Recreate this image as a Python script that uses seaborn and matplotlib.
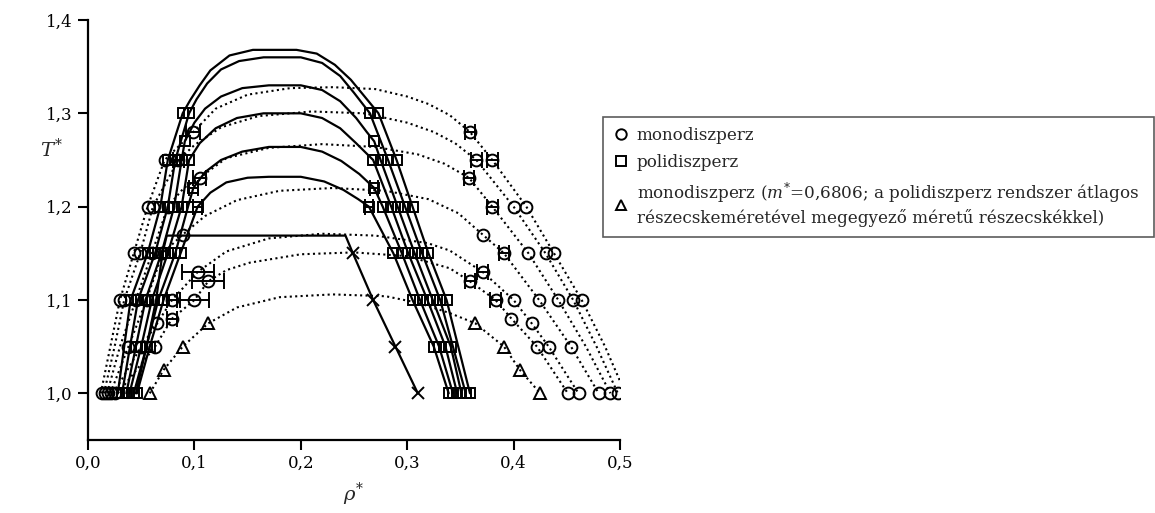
import numpy as np
import pandas as pd
import matplotlib
matplotlib.use("Agg")
import matplotlib.pyplot as plt
from matplotlib.lines import Line2D
from matplotlib.ticker import FuncFormatter, FixedLocator
import seaborn as sns

# ---------------- data ----------------
# monodisperse fitted coexistence curves (dotted)
c1_rho = [0.012,0.021,0.030,0.043,0.056,0.072,0.099,0.12,0.15,0.19,0.23,0.27,0.30,0.32,0.34,0.359,0.380,0.412,0.438,0.464,0.486,0.505]
c1_T   = [1.0,1.05,1.1,1.15,1.2,1.25,1.28,1.305,1.32,1.327,1.328,1.326,1.318,1.31,1.298,1.28,1.25,1.2,1.15,1.1,1.05,1.0]
c2_rho = [0.015,0.025,0.034,0.049,0.061,0.085,0.10,0.125,0.16,0.21,0.26,0.30,0.325,0.345,0.365,0.400,0.430,0.456,0.478,0.498]
c2_T   = [1.0,1.05,1.1,1.15,1.2,1.25,1.266,1.285,1.297,1.302,1.300,1.29,1.28,1.268,1.25,1.2,1.15,1.1,1.05,1.0]
c3_rho = [0.018,0.030,0.045,0.060,0.075,0.09,0.105,0.13,0.17,0.22,0.27,0.31,0.335,0.358,0.380,0.414,0.442,0.468,0.491]
c3_T   = [1.0,1.05,1.1,1.15,1.2,1.22,1.231,1.252,1.263,1.267,1.264,1.256,1.246,1.231,1.2,1.15,1.1,1.05,1.0]
c4_rho = [0.021,0.038,0.055,0.070,0.089,0.11,0.14,0.18,0.23,0.28,0.32,0.348,0.371,0.391,0.424,0.454,0.480]
c4_T   = [1.0,1.05,1.1,1.15,1.17,1.19,1.207,1.217,1.22,1.217,1.208,1.193,1.17,1.15,1.1,1.05,1.0]
c5_rho = [0.024,0.050,0.065,0.079,0.103,0.13,0.17,0.22,0.27,0.319,0.340,0.371,0.400,0.417,0.433,0.461]
c5_T   = [1.0,1.05,1.075,1.1,1.13,1.152,1.166,1.171,1.169,1.161,1.153,1.13,1.1,1.075,1.05,1.0]
c6_rho = [0.028,0.063,0.079,0.100,0.113,0.13,0.152,0.20,0.25,0.30,0.340,0.359,0.383,0.398,0.422,0.451]
c6_T   = [1.0,1.05,1.08,1.1,1.12,1.132,1.14,1.149,1.151,1.147,1.134,1.12,1.1,1.08,1.05,1.0]
# monodisperse m*=0.6806 curve (dotted, triangles)
tr_rho = [0.058,0.071,0.089,0.113,0.14,0.18,0.23,0.28,0.31,0.34,0.364,0.391,0.406,0.425]
tr_T   = [1.0,1.025,1.05,1.075,1.092,1.103,1.106,1.104,1.097,1.086,1.075,1.05,1.025,1.0]
tri_rho = [0.058,0.071,0.089,0.113,0.364,0.391,0.406,0.425]
tri_T   = [1.0,1.025,1.05,1.075,1.075,1.05,1.025,1.0]

# polydisperse curves (solid)
s1_rho = [0.028,0.040,0.056,0.068,0.075,0.089,0.096,0.105,0.115,0.133,0.155,0.196,0.215,0.232,0.247,0.260,0.273,0.290,0.305,0.320,0.337,0.359]
s1_T   = [1.0,1.1,1.15,1.2,1.25,1.3,1.314,1.33,1.346,1.362,1.368,1.368,1.364,1.352,1.336,1.318,1.3,1.25,1.2,1.15,1.1,1.0]
s2_rho = [0.032,0.047,0.063,0.075,0.082,0.095,0.102,0.112,0.125,0.142,0.165,0.20,0.22,0.237,0.250,0.265,0.282,0.298,0.314,0.331,0.355]
s2_T   = [1.0,1.1,1.15,1.2,1.25,1.3,1.315,1.332,1.347,1.356,1.360,1.360,1.354,1.340,1.322,1.3,1.25,1.2,1.15,1.1,1.0]
s3_rho = [0.036,0.045,0.054,0.069,0.081,0.088,0.091,0.10,0.11,0.125,0.145,0.17,0.20,0.22,0.237,0.252,0.262,0.269,0.275,0.291,0.307,0.324,0.341,0.351]
s3_T   = [1.0,1.05,1.1,1.15,1.2,1.25,1.27,1.29,1.305,1.318,1.327,1.33,1.33,1.325,1.313,1.295,1.28,1.27,1.25,1.2,1.15,1.1,1.05,1.0]
s4_rho = [0.039,0.050,0.060,0.075,0.088,0.095,0.105,0.12,0.14,0.165,0.20,0.22,0.237,0.252,0.268,0.285,0.301,0.319,0.336,0.347]
s4_T   = [1.0,1.05,1.1,1.15,1.2,1.25,1.268,1.284,1.295,1.30,1.30,1.295,1.284,1.268,1.25,1.2,1.15,1.1,1.05,1.0]
s5_rho = [0.043,0.055,0.066,0.082,0.094,0.099,0.11,0.125,0.145,0.17,0.20,0.22,0.238,0.255,0.269,0.277,0.295,0.312,0.330,0.343]
s5_T   = [1.0,1.05,1.1,1.15,1.2,1.22,1.237,1.25,1.259,1.264,1.264,1.259,1.249,1.235,1.22,1.2,1.15,1.1,1.05,1.0]
s6_rho = [0.046,0.058,0.071,0.087,0.103,0.115,0.13,0.15,0.17,0.20,0.222,0.24,0.254,0.264,0.287,0.305,0.325,0.339]
s6_T   = [1.0,1.05,1.1,1.15,1.2,1.215,1.226,1.231,1.232,1.232,1.227,1.218,1.208,1.2,1.15,1.1,1.05,1.0]

# cross-marked line (solid, x markers on right branch)
xl_rho = [0.045,0.055,0.064,0.070,0.074,0.242,0.249,0.268,0.289,0.310]
xl_T   = [1.0,1.05,1.1,1.15,1.169,1.169,1.15,1.1,1.05,1.0]
xm_rho = [0.249,0.268,0.289,0.310]
xm_T   = [1.15,1.1,1.05,1.0]

# monodisperse simulation points (circles) with horizontal error
circ_rho = [0.013,0.016,0.019,0.022,0.025,0.038,0.050,0.063,0.065,0.079,
            0.030,0.034,0.045,0.055,0.079,0.100,0.113,0.103,
            0.043,0.049,0.060,0.070,0.089,0.056,0.061,0.075,0.105,0.072,0.085,0.099,
            0.359,0.380,0.412,0.438,0.464,
            0.365,0.400,0.430,0.456,0.498,
            0.358,0.380,0.414,0.442,0.491,
            0.371,0.391,0.424,0.454,0.480,
            0.371,0.400,0.417,0.433,0.461,
            0.359,0.383,0.398,0.422,0.451]
circ_T   = [1.0,1.0,1.0,1.0,1.0,1.05,1.05,1.05,1.075,1.08,
            1.1,1.1,1.1,1.1,1.1,1.1,1.12,1.13,
            1.15,1.15,1.15,1.15,1.17,1.2,1.2,1.2,1.231,1.25,1.25,1.28,
            1.28,1.25,1.2,1.15,1.1,
            1.25,1.2,1.15,1.1,1.0,
            1.231,1.2,1.15,1.1,1.0,
            1.17,1.15,1.1,1.05,1.0,
            1.13,1.1,1.075,1.05,1.0,
            1.12,1.1,1.08,1.05,1.0]
circ_err = [0,0,0,0,0,0,0,0,0,0.005,
            0,0,0,0,0.005,0.014,0.015,0.015,
            0,0,0,0,0,0,0,0,0.006,0,0.005,0.0065,
            0.005,0.005,0,0,0,
            0.005,0,0,0,0,
            0.005,0.005,0,0,0,
            0,0.005,0,0,0,
            0.005,0,0,0,0,
            0.005,0.005,0,0,0]

# polydisperse simulation points (squares)
sq_rho = [0.028,0.032,0.036,0.039,0.043,0.046,
          0.045,0.050,0.055,0.058,
          0.040,0.047,0.054,0.060,0.066,0.071,
          0.056,0.063,0.069,0.075,0.082,0.087,
          0.068,0.075,0.081,0.088,0.094,0.103,
          0.099,0.075,0.082,0.088,0.095,0.091,0.089,0.095,
          0.359,0.355,0.351,0.347,0.343,0.339,
          0.341,0.336,0.330,0.325,
          0.337,0.331,0.324,0.319,0.312,0.305,
          0.320,0.314,0.307,0.301,0.295,0.287,
          0.305,0.298,0.291,0.285,0.277,0.264,
          0.269,0.290,0.282,0.275,0.268,0.269,0.273,0.265]
sq_T   = [1.0]*6 + [1.05]*4 + [1.1]*6 + [1.15]*6 + [1.2]*6 + \
         [1.22,1.25,1.25,1.25,1.25,1.27,1.3,1.3] + \
         [1.0]*6 + [1.05]*4 + [1.1]*6 + [1.15]*6 + [1.2]*6 + \
         [1.22,1.25,1.25,1.25,1.25,1.27,1.3,1.3]
sq_err = [0]*27 + [0.004, 0.004] + [0]*7 + [0]*27 + [0.004, 0.004] + [0]*7

x_ticks = [0.0, 0.1, 0.2, 0.3, 0.4, 0.5]
y_ticks = [1.0, 1.1, 1.2, 1.3, 1.4]
legend_labels = ["monodiszperz", "polidiszperz",
                 "monodiszperz ($m^{*}$=0,6806; a polidiszperz rendszer átlagos\nrészecskeméretével megegyező méretű részecskékkel)"]

# ---------------- style ----------------
sns.set_theme(style="ticks")
plt.rcParams["font.family"] = ["DejaVu Serif", "DejaVu Sans"]
plt.rcParams["mathtext.fontset"] = "dejavuserif"

fig = plt.figure(figsize=(11.55, 5.13), dpi=100)
ax = fig.add_axes([88/1155, 73/513, 532/1155, 420/513])

K = "black"
dot_kw = dict(color=K, linewidth=1.5, linestyle=(0, (1, 1.6)), estimator=None, sort=False, ax=ax, legend=False)
sol_kw = dict(color=K, linewidth=1.6, linestyle="-", estimator=None, sort=False, ax=ax, legend=False)

for r, t in [(c1_rho, c1_T), (c2_rho, c2_T), (c3_rho, c3_T), (c4_rho, c4_T),
             (c5_rho, c5_T), (c6_rho, c6_T), (tr_rho, tr_T)]:
    sns.lineplot(x=r, y=t, **dot_kw)

for r, t in [(s1_rho, s1_T), (s2_rho, s2_T), (s3_rho, s3_T), (s4_rho, s4_T),
             (s5_rho, s5_T), (s6_rho, s6_T), (xl_rho, xl_T)]:
    sns.lineplot(x=r, y=t, **sol_kw)

# error bars
ce = np.array(circ_err); cr = np.array(circ_rho); ct = np.array(circ_T)
m = ce > 0
ax.errorbar(cr[m], ct[m], xerr=ce[m], fmt="none", ecolor=K, elinewidth=1.4, capsize=5.5, capthick=1.4)
se = np.array(sq_err); sr = np.array(sq_rho); st = np.array(sq_T)
m2 = se > 0
ax.errorbar(sr[m2], st[m2], xerr=se[m2], fmt="none", ecolor=K, elinewidth=1.4, capsize=5.5, capthick=1.4)

mk = dict(estimator=None, sort=False, ax=ax, legend=False, linestyle="none", color=K,
          markerfacecolor="none", markeredgecolor=K, markeredgewidth=1.4)
sns.lineplot(x=circ_rho, y=circ_T, marker="o", markersize=8.5, **mk)
sns.lineplot(x=sq_rho, y=sq_T, marker="s", markersize=7.5, **mk)
sns.lineplot(x=tri_rho, y=tri_T, marker="^", markersize=8.5, **mk)
sns.lineplot(x=xm_rho, y=xm_T, marker="x", markersize=9, **mk)

ax.set_xlim(0, 0.5)
ax.set_ylim(0.95, 1.4)
ax.xaxis.set_major_locator(FixedLocator(x_ticks))
ax.yaxis.set_major_locator(FixedLocator(y_ticks))
fmt = FuncFormatter(lambda v, p: f"{v:.1f}".replace(".", ","))
ax.xaxis.set_major_formatter(fmt)
ax.yaxis.set_major_formatter(fmt)
ax.tick_params(axis="both", length=7, width=1.5, labelsize=12, colors=K, pad=4)
for s in ["left", "bottom"]:
    ax.spines[s].set_linewidth(1.6)
    ax.spines[s].set_color(K)
sns.despine(ax=ax)

ax.set_xlabel(r"$\rho^{*}$", fontsize=14, labelpad=6)
ax.set_ylabel(r"$T^{*}$", fontsize=14, rotation=0)
ax.yaxis.set_label_coords(-0.068, 0.665)

handles = [Line2D([], [], marker=mm, linestyle="none", markerfacecolor="none",
                  markeredgecolor=K, markeredgewidth=1.4, markersize=7.5)
           for mm in ["o", "s", "^"]]
leg = fig.legend(handles, legend_labels, loc="upper left",
                 bbox_to_anchor=(603/1155, 1 - 240/513, 551/1155, 123/513),
                 mode="expand", borderaxespad=0,
                 frameon=True, fancybox=False, edgecolor="#333333",
                 fontsize=12.1, handlelength=0.9, handletextpad=0.5,
                 labelspacing=0.6, borderpad=0.6)
leg.get_frame().set_linewidth(1.2)

fig.savefig("out.png", dpi=100)
